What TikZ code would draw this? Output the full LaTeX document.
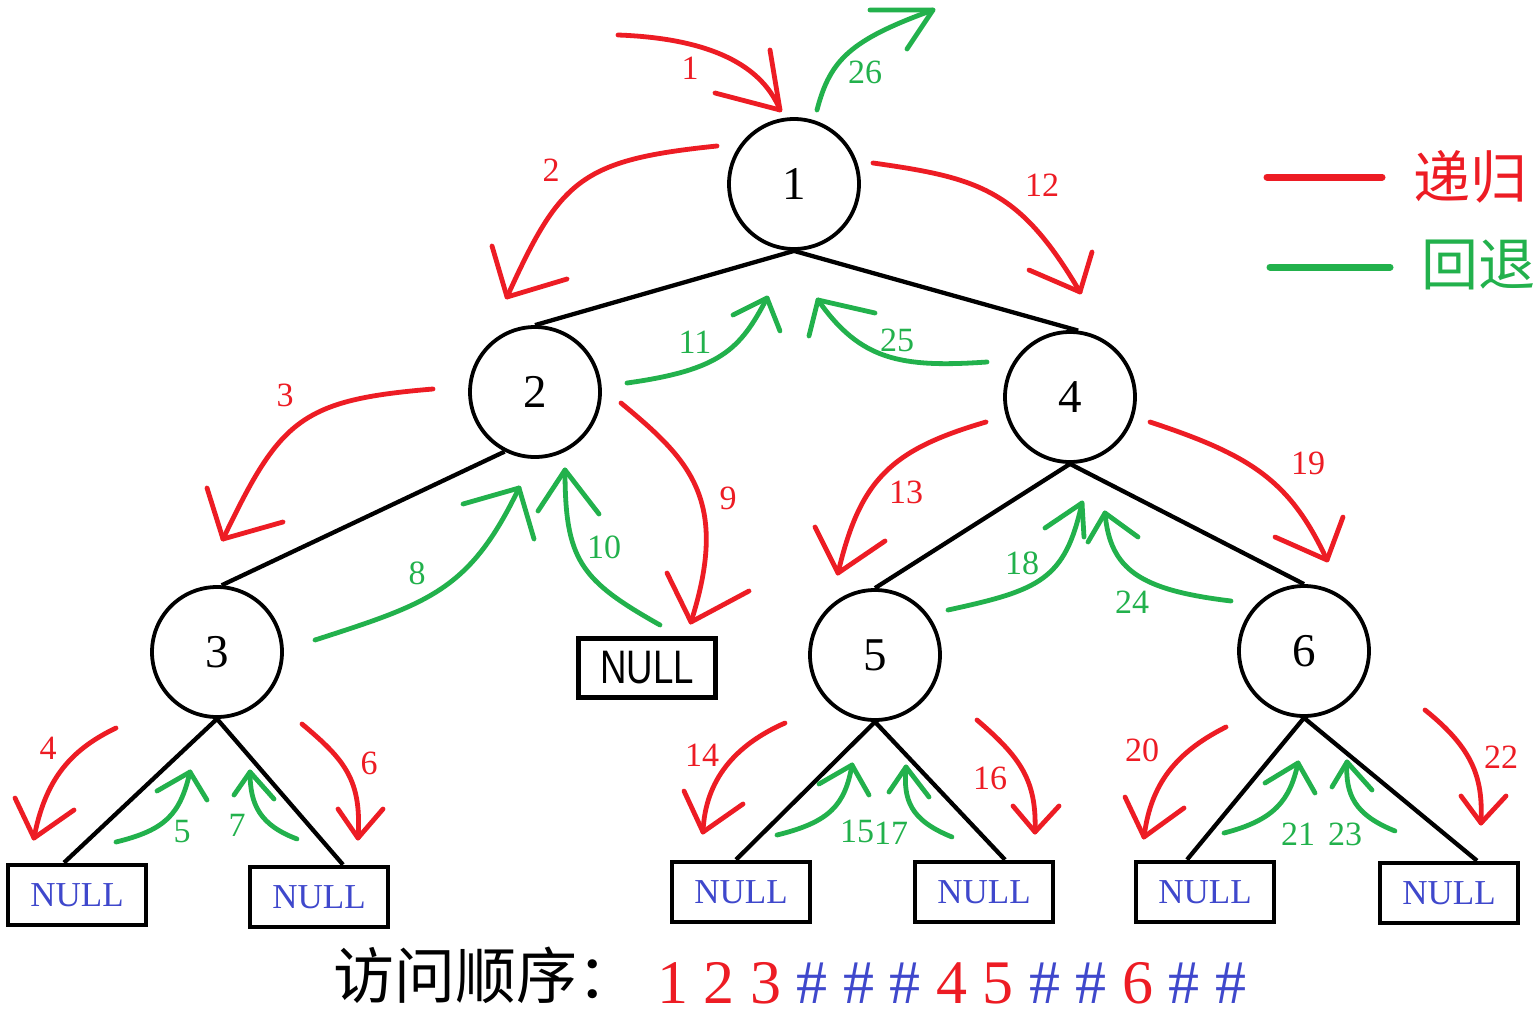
\documentclass[tikz,border=0pt]{standalone}
\usepackage{fontspec}
\setmainfont{Liberation Serif}
\newfontfamily\cjk{Noto Sans CJK SC}
\newfontfamily\narrowsans[FakeStretch=0.78]{Liberation Sans}
\definecolor{myred}{RGB}{237,28,36}
\definecolor{mygreen}{RGB}{34,177,76}
\definecolor{myblue}{RGB}{63,72,204}
\tikzset{
  circ/.style={circle, draw=black, line width=3.8pt, minimum size=130pt, inner sep=0pt, font=\fontsize{47}{47}\selectfont},
  nullbox/.style={draw=black, line width=4.6pt, minimum width=138pt, minimum height=60pt, inner sep=0pt, text=myblue, font=\fontsize{35}{35}\selectfont},
  blackbox/.style={draw=black, line width=4.6pt, minimum width=137pt, minimum height=59pt, inner sep=0pt, font=\narrowsans\fontsize{47}{47}\selectfont},
  edge/.style={draw=black, line width=4.3pt},
  rarr/.style={draw=myred, line width=4.8pt, line cap=round, line join=round},
  garr/.style={draw=mygreen, line width=4.8pt, line cap=round, line join=round},
  rlab/.style={text=myred, inner sep=0pt, font=\fontsize{34}{34}\selectfont},
  glab/.style={text=mygreen, inner sep=0pt, font=\fontsize{34}{34}\selectfont},
}
\begin{document}
\begin{tikzpicture}[x=1pt, y=-1pt]
\useasboundingbox[fill=white] (0,0) rectangle (1540,1012);

% tree nodes
\node[circ] (n1) at (794,184) {1};
\node[circ] (n2) at (535,392) {2};
\node[circ] (n3) at (217,652) {3};
\node[circ] (n4) at (1070,397) {4};
\node[circ] (n5) at (875,655) {5};
\node[circ] (n6) at (1304,651) {6};

\node[nullbox] (b1) at (77,895) {NULL};
\node[nullbox] (b2) at (319,897) {NULL};
\node[nullbox] (b3) at (741,892) {NULL};
\node[nullbox] (b4) at (984,892) {NULL};
\node[nullbox] (b5) at (1205,892) {NULL};
\node[nullbox] (b6) at (1449,893) {NULL};
\node[blackbox] (bn) at (647,668) {NULL};

% edges
\draw[edge] (n1.south) -- (n2.north);
\draw[edge] (n1.south) -- (n4.83);
\draw[edge] (n2.243) -- (n3.86);
\draw[edge] (n4.south) -- (n5.north);
\draw[edge] (n4.south) -- (n6.north);
\draw[edge] (n3.south) -- ([xshift=-13pt]b1.north);
\draw[edge] (n3.south) -- ([xshift=24pt]b2.north);
\draw[edge] (n5.south) -- ([xshift=-5pt]b3.north);
\draw[edge] (n5.south) -- ([xshift=21pt]b4.north);
\draw[edge] (n6.south) -- ([xshift=-18pt]b5.north);
\draw[edge] (n6.south) -- ([xshift=28pt]b6.north);

% arrows
\draw[rarr] (618,35) .. controls (700,38) and (760,60) .. (780,110);
\draw[rarr] (770,50) -- (780,110) -- (715,93);
\node[rlab] (l1) at (690,68) {1};

\draw[garr] (817,110) .. controls (830,60) and (850,40) .. (933,10);
\draw[garr] (870,10) -- (933,10) -- (907,49);
\node[glab] (l26) at (865,72) {26};

\draw[rarr] (717,146) .. controls (580,160) and (560,180) .. (507,297);
\draw[rarr] (492,246) -- (507,297) -- (567,279);
\node[rlab] (l2) at (551,170) {2};

\draw[rarr] (873,163) .. controls (980,178) and (1020,190) .. (1080,292);
\draw[rarr] (1092,252) -- (1080,292) -- (1029,270);
\node[rlab] (l12) at (1042,185) {12};

\draw[rarr] (433,389) .. controls (300,400) and (280,420) .. (223,539);
\draw[rarr] (207,488) -- (223,539) -- (283,522);
\node[rlab] (l3) at (285,395) {3};

\draw[rarr] (621,403) .. controls (690,460) and (730,500) .. (691,622);
\draw[rarr] (667,573) -- (691,622) -- (749,591);
\node[rlab] (l9) at (728,498) {9};

\draw[garr] (315,640) .. controls (430,603) and (470,590) .. (519,488);
\draw[garr] (463,504) -- (519,488) -- (534,539);
\node[glab] (l8) at (417,573) {8};

\draw[garr] (660,625) .. controls (580,580) and (565,560) .. (565,470);
\draw[garr] (538,511) -- (565,470) -- (599,514);
\node[glab] (l10) at (604,547) {10};

\draw[garr] (627,383) .. controls (720,370) and (740,350) .. (767,298);
\draw[garr] (733,315) -- (767,298) -- (780,331);
\node[glab] (l11) at (695,342) {11};

\draw[garr] (987,362) .. controls (900,368) and (860,360) .. (818,300);
\draw[garr] (875,313) -- (818,300) -- (809,336);
\node[glab] (l25) at (897,340) {25};

\draw[rarr] (986,422) .. controls (890,450) and (860,480) .. (838,573);
\draw[rarr] (815,527) -- (838,573) -- (885,541);
\node[rlab] (l13) at (906,492) {13};

\draw[rarr] (1150,422) .. controls (1250,455) and (1290,480) .. (1327,560);
\draw[rarr] (1275,537) -- (1327,560) -- (1343,517);
\node[rlab] (l19) at (1308,463) {19};

\draw[garr] (948,610) .. controls (1040,590) and (1065,580) .. (1082,503);
\draw[garr] (1045,528) -- (1082,503) -- (1084,537);
\node[glab] (l18) at (1022,563) {18};

\draw[garr] (1231,601) .. controls (1140,590) and (1110,570) .. (1105,513);
\draw[garr] (1088,542) -- (1105,513) -- (1138,537);
\node[glab] (l24) at (1132,602) {24};

\draw[rarr] (116,728) .. controls (70,750) and (45,780) .. (34,838);
\draw[rarr] (15,798) -- (34,838) -- (74,810);
\node[rlab] (l4) at (48,748) {4};

\draw[garr] (116,842) .. controls (165,830) and (180,815) .. (190,772);
\draw[garr] (157,791) -- (190,772) -- (207,800);
\node[glab] (l5) at (182,832) {5};

\draw[garr] (297,839) .. controls (260,825) and (250,805) .. (250,772);
\draw[garr] (234,795) -- (250,772) -- (274,799);
\node[glab] (l7) at (237,825) {7};

\draw[rarr] (302,724) .. controls (345,760) and (362,780) .. (358,838);
\draw[rarr] (338,809) -- (358,838) -- (383,809);
\node[rlab] (l6) at (369,763) {6};

\draw[rarr] (785,723) .. controls (735,745) and (705,780) .. (703,832);
\draw[rarr] (684,791) -- (703,832) -- (743,804);
\node[rlab] (l14) at (702,755) {14};

\draw[garr] (777,835) .. controls (830,822) and (845,805) .. (852,765);
\draw[garr] (819,784) -- (852,765) -- (869,795);
\node[glab] (l15) at (857,831) {15};

\draw[garr] (952,837) .. controls (910,820) and (903,800) .. (906,767);
\draw[garr] (889,792) -- (906,767) -- (929,797);
\node[glab] (l17) at (891,833) {17};

\draw[rarr] (977,720) .. controls (1020,757) and (1037,780) .. (1035,832);
\draw[rarr] (1013,806) -- (1035,832) -- (1059,806);
\node[rlab] (l16) at (990,778) {16};

\draw[rarr] (1226,727) .. controls (1170,755) and (1150,790) .. (1144,837);
\draw[rarr] (1125,797) -- (1144,837) -- (1184,808);
\node[rlab] (l20) at (1142,750) {20};

\draw[garr] (1224,833) .. controls (1275,820) and (1290,800) .. (1298,763);
\draw[garr] (1265,783) -- (1298,763) -- (1315,793);
\node[glab] (l21) at (1298,834) {21};

\draw[garr] (1395,831) .. controls (1355,815) and (1345,795) .. (1347,762);
\draw[garr] (1332,787) -- (1347,762) -- (1372,790);
\node[glab] (l23) at (1345,834) {23};

\draw[rarr] (1425,710) .. controls (1475,750) and (1483,780) .. (1481,823);
\draw[rarr] (1461,796) -- (1481,823) -- (1506,796);
\node[rlab] (l22) at (1501,757) {22};

% legend
\draw[draw=myred, line width=7pt, line cap=round] (1267,177) -- (1382,177);
\draw[draw=mygreen, line width=7pt, line cap=round] (1270,267) -- (1390,267);
\node[text=myred, inner sep=0pt, font=\cjk\fontsize{57}{57}\selectfont] (lg1) at (1470,177) {递归};
\node[text=mygreen, inner sep=0pt, font=\cjk\fontsize{57}{57}\selectfont] (lg2) at (1478,265) {回退};

% bottom sequence
\node[anchor=base west, inner sep=0pt, font=\cjk\fontsize{61}{61}\selectfont] (title) at (333,998) {访问顺序：};
\node[anchor=base west, inner sep=0pt, font=\fontsize{62}{62}\selectfont] (seq) at (657,1003)
  {\textcolor{myred}{1 2 3} \textcolor{myblue}{\# \# \#} \textcolor{myred}{4 5} \textcolor{myblue}{\# \#} \textcolor{myred}{6} \textcolor{myblue}{\# \#}};
\end{tikzpicture}
\end{document}
